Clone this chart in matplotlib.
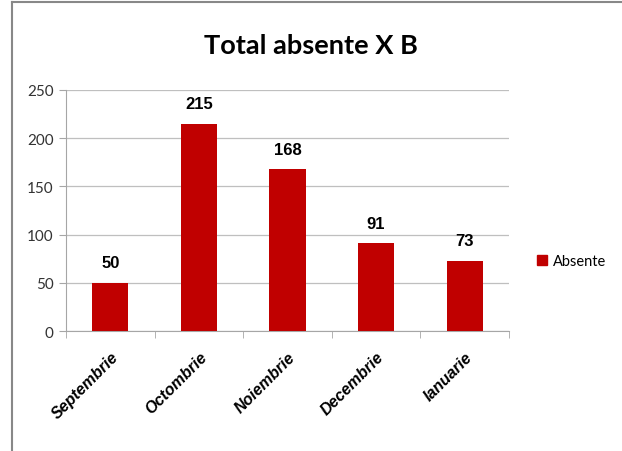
import matplotlib
matplotlib.use("Agg")
import matplotlib.pyplot as plt
from matplotlib.lines import Line2D
from matplotlib.patches import Patch

months = ["Septembrie", "Octombrie", "Noiembrie", "Decembrie", "Ianuarie"]
absente = [50, 215, 168, 91, 73]
yticks = [0, 50, 100, 150, 200, 250]

red = "#C00000"
grey = "#A6A6A6"

fig = plt.figure(figsize=(6.22, 4.52), dpi=100)
ax = fig.add_axes([66 / 622, 1 - 332 / 452, 443 / 622, 241 / 452])

x = list(range(len(months)))
bars = ax.bar(x, absente, width=0.41, color=red, zorder=3)

ax.set_xlim(-0.5, len(months) - 0.5)
ax.set_ylim(0, 250)
ax.set_yticks(yticks)
ax.set_yticklabels([str(v) for v in yticks], fontsize=11, color="#333333",
                   family="Lato")
ax.yaxis.grid(True, color="#BFBFBF", lw=0.9, zorder=0)

ax.set_xticks(x)
ax.set_xticklabels(months, rotation=45, ha="right", rotation_mode="anchor",
                   fontsize=11.5, fontweight="bold", style="italic",
                   family="Liberation Sans")
ax.set_xticks([i - 0.5 for i in range(len(months) + 1)], minor=True)
ax.tick_params(axis="x", which="major", length=0, pad=13)
ax.tick_params(axis="x", which="minor", length=5, color=grey, direction="out")
ax.tick_params(axis="y", length=5, color=grey, direction="out", pad=4)

for side in ["top", "right"]:
    ax.spines[side].set_visible(False)
for side in ["left", "bottom"]:
    ax.spines[side].set_color(grey)

for b, v in zip(bars, absente):
    ax.annotate(str(v), (b.get_x() + b.get_width() / 2, v),
                xytext=(0, 9), textcoords="offset points",
                ha="center", va="bottom", fontsize=12, fontweight="bold",
                family="Liberation Sans")

fig.text(0.5, 1 - 46 / 452, "Total absente X B", ha="center", va="center",
         fontsize=19.5, fontweight="bold", family="Lato")

handle = Patch(color=red)
fig.legend([handle], ["Absente"], loc="center left",
           bbox_to_anchor=(524 / 622, 1 - 262 / 452), frameon=False,
           handlelength=0.7, handleheight=0.7, handletextpad=0.4,
           prop={"family": "Lato", "size": 10.5})

# outer frame lines
fig.add_artist(Line2D([12 / 622, 12 / 622], [0, 1 - 3 / 452],
                      transform=fig.transFigure, color="#888888", lw=1.5))
fig.add_artist(Line2D([12 / 622, 1], [1 - 3 / 452, 1 - 3 / 452],
                      transform=fig.transFigure, color="#888888", lw=1.5))

fig.savefig("out.png", dpi=100)
